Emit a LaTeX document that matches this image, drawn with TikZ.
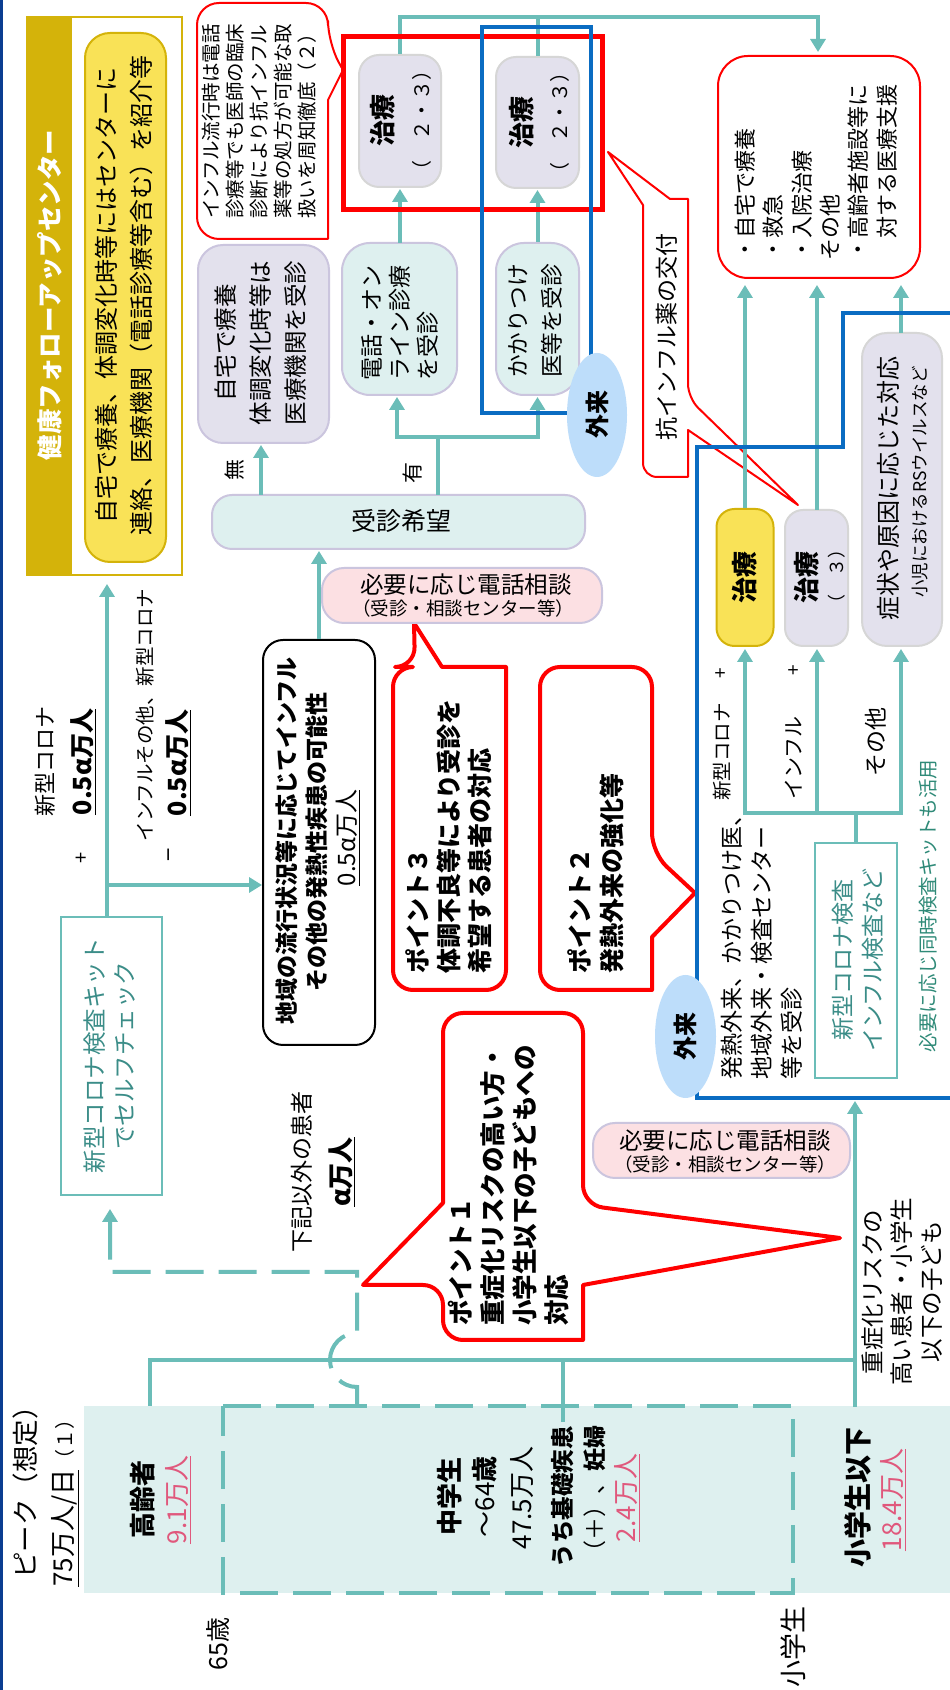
\documentclass[tikz,border=0pt]{standalone}
\usepackage{fontspec}
\setmainfont{Noto Sans CJK JP}
\usetikzlibrary{arrows.meta,shapes.geometric}
\definecolor{cTeal}{HTML}{6BBDB8}
\definecolor{cTealF}{HTML}{DEF0EF}
\definecolor{cLavB}{HTML}{CBC5DE}
\definecolor{cLavF}{HTML}{E3E1ED}
\definecolor{cGrayB}{HTML}{D6D6D6}
\definecolor{cYel}{HTML}{F9E257}
\definecolor{cGold}{HTML}{D4B30A}
\definecolor{cPinkF}{HTML}{FCE0E3}
\definecolor{cPinkT}{HTML}{E0587C}
\definecolor{cRed}{HTML}{FF0000}
\definecolor{cBlue}{HTML}{0A6CC2}
\definecolor{cNavy}{HTML}{0B3D91}
\definecolor{cEll}{HTML}{BDDDFA}
\definecolor{cKit}{HTML}{3B8D88}
\definecolor{cKitG}{HTML}{2F8A78}
\tikzset{
  ktl/.style={draw=cTeal, line width=4pt},
  karr/.style={ktl, -{Triangle[width=15pt,length=13pt]}},
  karrb/.style={ktl, {Triangle[width=15pt,length=13pt]}-{Triangle[width=15pt,length=13pt]}},
  kdsh/.style={ktl, dash pattern=on 38pt off 15pt},
  kdarr/.style={kdsh, -{Triangle[width=15pt,length=13pt]}},
  kco/.style={draw=cRed, line width=2pt, fill=white, line join=round},
  kcob/.style={draw=cRed, line width=4pt, fill=white, line join=round},
  kbx/.style={rectangle, inner sep=0pt, line width=2pt},
  ktx/.style={inner sep=0pt, font=\fontsize{#1}{#1}\selectfont},
  ktb/.style={inner sep=0pt, font=\bfseries\fontsize{#1}{#1}\selectfont},
  kml/.style 2 args={inner sep=0pt, align=left, anchor=west, font=\fontsize{#1}{#2}\selectfont},
  kmlb/.style 2 args={inner sep=0pt, align=left, anchor=west, font=\bfseries\fontsize{#1}{#2}\selectfont},
  kmc/.style 2 args={inner sep=0pt, align=center, font=\fontsize{#1}{#2}\selectfont},
  kupr/.style={rotate=-90},
}
\begin{document}
\begin{tikzpicture}[x=1pt,y=1pt]
\useasboundingbox (0,0) rectangle (950,1690);
\fill[white] (0,0) rectangle (950,1690);
\begin{scope}[rotate=90, shift={(1690pt,0pt)}, x={(0pt,-1pt)}, y={(-1pt,0pt)}, transform shape]
% ---------- base fills
\fill[cNavy] (0,0) rectangle (3,1690);
\fill[cTealF] (84,1406) rectangle (950,1593);
% ---------- callouts
\draw[kco] (197,120) [rounded corners=22pt] -- (197,3) -- (328,3) -- (328,43) [sharp corners] -- (343,70) -- (328,100) -- (328,239) [rounded corners=22pt] -- (197,239) -- cycle;
\draw[kco] (643,340) -- (643,205) -- (608,152) -- (670,199) -- (688,199) [rounded corners=14pt] -- (688,398) [sharp corners] -- (798,505) -- (688,430) -- (688,477) [rounded corners=14pt] -- (643,477) -- cycle;
\draw[kcob] (393,830) [rounded corners=20pt] -- (393,667) -- (415,667) [sharp corners] -- (414,623) -- (442,667) -- (506,667) [rounded corners=20pt] -- (506,990) -- (393,990) -- cycle;
\draw[kcob] (540,830) [rounded corners=20pt] -- (540,667) -- (652,667) -- (652,853) [sharp corners] -- (695,893) -- (652,937) -- (652,990) [rounded corners=20pt] -- (540,990) -- cycle;
\draw[kcob] (443,1100) [rounded corners=20pt] -- (443,1013) -- (583,1013) -- (583,1205) [sharp corners] -- (840,1238) -- (583,1285) -- (583,1340) [rounded corners=20pt] -- (443,1340) -- (443,1285) [sharp corners] -- (363,1285) -- (443,1203) -- cycle;
% ---------- boxes
\node[draw=cGold, line width=2pt, fill=white, inner sep=0pt, minimum width=558pt, minimum height=155pt] (hdr) at (104.5,296) {};
\fill[cGold] (27,17) rectangle (72,575);
\node[kbx, fill=cYel, draw=cGold, rounded corners=25pt, minimum width=529pt, minimum height=81pt] (yb) at (125.5,297.5) {};
\node[kbx, fill=cLavF, draw=cGrayB, rounded corners=20pt, minimum width=132pt, minimum height=82pt] (t1) at (400,121) {};
\node[kbx, fill=cLavF, draw=cGrayB, rounded corners=20pt, minimum width=131pt, minimum height=83pt] (t2) at (537.5,122.5) {};
\node[kbx, fill=white, draw=cRed, rounded corners=30pt, minimum width=222pt, minimum height=202pt] (rb) at (819,167) {};
\node[kbx, fill=cLavF, draw=cLavB, rounded corners=25pt, minimum width=198pt, minimum height=131pt] (jt) at (263.5,344) {};
\node[kbx, fill=cTealF, draw=cLavB, rounded corners=28pt, minimum width=152pt, minimum height=115pt] (den) at (399.5,319) {};
\node[kbx, fill=cTealF, draw=cLavB, rounded corners=28pt, minimum width=152pt, minimum height=83pt] (kk) at (537.5,319) {};
\node[kbx, fill=cTealF, draw=cLavB, rounded corners=20pt, minimum width=54pt, minimum height=373pt] (jk) at (398.5,522) {};
\node[kbx, fill=cPinkF, draw=cLavB, rounded corners=22pt, minimum width=55pt, minimum height=280pt] (pk1) at (462,595.5) {};
\node[kbx, fill=white, draw=black, rounded corners=20pt, minimum width=405pt, minimum height=112pt] (ch) at (319,842.5) {};
\node[kbx, fill=white, draw=cTeal, line width=2.5pt, minimum width=278pt, minimum height=101pt] (k1) at (111.5,1056) {};
\node[kbx, fill=cYel, draw=cGold, rounded corners=18pt, minimum width=137pt, minimum height=57pt] (ty) at (745,577.5) {};
\node[kbx, fill=cLavF, draw=cGrayB, rounded corners=18pt, minimum width=136pt, minimum height=63pt] (t3) at (816.5,578) {};
\node[kbx, fill=cLavF, draw=cGrayB, rounded corners=25pt, minimum width=313pt, minimum height=80pt] (ss) at (902,489.5) {};
\node[kbx, fill=white, draw=cTeal, line width=2.5pt, minimum width=235pt, minimum height=82pt] (k2) at (856,960.5) {};
\node[kbx, fill=cPinkF, draw=cLavB, rounded corners=22pt, minimum width=55pt, minimum height=257pt] (pk2) at (721.5,1150.5) {};
% ---------- connectors
\draw[karr] (t1.east) -- (400,17) -- (818,17) -- (818,52);
\draw[ktl] (t2.east) -- (537.5,17);
\draw[karr] (261,495) -- (261,445);
\draw[ktl] (438,495) -- (438,437);
\draw[karrb] (397,397) -- (397,437) -- (537.5,437) -- (537.5,397);
\draw[karr] (400,243) -- (400,189);
\draw[karr] (kk.east) -- (537.5,190);
\draw[karr] (ch.east) -- (319,551);
\draw[karr] (107,917) -- (107,584);
\draw[karr] (107,885) -- (262,885);
\draw[kdarr] (357,1406) -- (357,1387) .. controls (342.1,1387) and (330,1374.9) .. (330,1360) .. controls (330,1345.1) and (342.1,1333) .. (357,1333) -- (357,1272) -- (110,1272) -- (110,1209);
\draw[ktl] (150,1406) -- (150,1360) -- (855,1360);
\draw[ktl] (563,1360) -- (563,1422);
\draw[karr] (855,1407) -- (855,1101);
\draw[ktl] (k2.east) -- (856,813);
\draw[karrb] (745,649) -- (745,813) -- (901,813) -- (901,649);
\draw[karr] (817,813) -- (817,649);
\draw[karr] (ty.east) -- (745,285);
\draw[karr] (817,510) -- (817,285);
\draw[karr] (901,333) -- (901,285);
\draw[kdsh] (223,1406) rectangle (793,1593);
% ---------- frames
\node[draw=cRed, line width=5pt, inner sep=0pt, minimum width=173pt, minimum height=259pt] (redf) at (472.5,123.5) {};
\node[draw=cBlue, line width=3.5pt, inner sep=0pt, minimum width=386pt, minimum height=109pt] (bluef) at (536.5,220) {};
\draw[cBlue, line width=3.5pt] (950,313) -- (843,313) -- (843,447) -- (697,447) -- (697,1098) -- (950,1098);
\node[ellipse, fill=cEll, ktb=24, minimum width=124pt, minimum height=60pt] (g1) at (597,415) {外来};
\node[ellipse, fill=cEll, ktb=24, minimum width=123pt, minimum height=61pt] (g2) at (685.5,1036.5) {外来};
% ---------- texts
\node[ktb=25.5, text=white] (hdrt) at (49.5,295) {健康フォローアップセンター};
\node[kmc={24}{35}] (ybt) at (124.5,296) {自宅で療養、体調変化時等にはセンターに\\連絡、医療機関（電話診療等含む）を紹介等};
\node[kml={19.5}{24}] (c0t) at (259.5,219) {インフル流行時は電話\\診療等でも医師の臨床\\診断により抗インフル\\薬等の処方が可能な取\\扱いを周知徹底（２）};
\node[ktb=26] (t1a) at (383,121) {治療};
\node[ktx=20] (t1b) at (422,121) {（　２・３）};
\node[ktb=26] (t2a) at (522,122.5) {治療};
\node[ktx=20] (t2b) at (560,122.5) {（　２・３）};
\node[kml={22}{28.4}] (rbt) at (816,261) {・自宅で療養\\・救急\\・入院治療\\その他\\・高齢者施設等に\\\hspace*{1em}対する医療支援};
\node[kmc={23.5}{35}] (jtt) at (261,343) {自宅で療養\\体調変化時等は\\医療機関を受診};
\node[kml={23}{28}] (dent) at (400,381) {電話・オン\\ライン診療\\を受診};
\node[kml={22.7}{34}] (kkt) at (535,378) {かかりつけ\\医等を受診};
\node[kupr, ktx=25] (jkt) at (401,521) {受診希望};
\node[ktx=21] (mu) at (235,470) {無};
\node[ktx=21] (yu) at (413,473) {有};
\node[kupr, ktx=23.5] (pk1a) at (466,585) {必要に応じ電話相談};
\node[kupr, ktx=18.5] (pk1b) at (463,608) {（受診・相談センター等）};
\node[ktb=23] (ch1) at (287,841) {地域の流行状況等に応じてインフル};
\node[ktb=23] (ch2) at (317,842) {その他の発熱性疾患の可能性};
\node[ktx=24] (ch3) at (348,838) {\underline{0.5α万人}};
\node[kmlb={25}{31}] (p3t) at (449,974) {ポイント３\\体調不良等により受診を\\希望する患者の対応};
\node[kmlb={25}{32}] (p2t) at (596,974) {ポイント２\\発熱外来の強化等};
\node[kmlb={25.5}{32}] (p1t) at (509,1326) {ポイント１\\重症化リスクの高い方・\\小学生以下の子どもへの\\対応};
\node[kupr, ktx=23.5] (pk2a) at (725,1141) {必要に応じ電話相談};
\node[kupr, ktx=18.5] (pk2b) at (725,1164) {（受診・相談センター等）};
\node[kml={23}{30}] (hnt) at (762,1080) {発熱外来、かかりつけ医、\\地域外来・検査センター\\等を受診};
\node[kmc={23}{30}, text=cKit] (k2t) at (858,960) {新型コロナ検査\\インフル検査など};
\node[ktx=19.5, text=cKitG] (hn2) at (928,906) {必要に応じ同時検査キットも活用};
\node[kml={19.5}{19.5}] (lb1) at (722,801) {新型コロナ};
\node[ktx=19] (lb1p) at (722,673) {+};
\node[kml={21}{21}] (lb2) at (794,800) {インフル};
\node[ktx=19] (lb2p) at (795,670) {+};
\node[ktx=23] (lb3) at (876,742) {その他};
\node[ktb=26] (tya) at (745,577.5) {治療};
\node[ktb=26] (t3a) at (807,578) {治療};
\node[ktx=18] (t3b) at (837,577) {（　３）};
\node[ktx=24] (ssa) at (888,489) {症状や原因に応じた対応};
\node[ktx=17.5] (ssb) at (920,482) {小児におけるRSウイルスなど};
\node[ktx=23] (kp) at (667,337) {抗インフル薬の交付};
\node[kmc={23.5}{30}, text=cKit] (k1t) at (110,1056) {新型コロナ検査キット\\でセルフチェック};
\node[kmc={23.5}{29.5}] (jr) at (902,1292) {重症化リスクの\\高い患者・小学生\\以下の子ども};
\node[ktx=23] (kaki) at (302,1172) {下記以外の患者};
\node[ktb=26] (alp) at (342,1172) {\underline{α万人}};
\node[ktx=22] (ln1) at (45,762) {新型コロナ};
\node[ktb=25] (ln2) at (83,762) {\underline{0.5α万人}};
\node[ktx=20] (lnp) at (82,858) {+};
\node[ktx=19.5] (ln3) at (145,715) {インフルその他、新型コロナ};
\node[ktb=25] (ln4) at (178,763) {\underline{0.5α万人}};
\node[ktx=24] (lnm) at (173,855) {−};
\node[ktb=26] (ko) at (143,1500) {高齢者};
\node[ktx=26, text=cPinkT] (kon) at (178,1500) {\underline{9.1万人}};
\node[ktb=26] (cu1) at (450,1497) {中学生};
\node[ktx=26] (cu2) at (485,1497) {〜64{\bfseries 歳}};
\node[ktx=26] (cu3) at (522,1498) {47.5万人};
\node[ktb=23.5] (cu4) at (563,1497) {うち基礎疾患};
\node[ktx=23] (cu5) at (595,1495) {（＋）、{\bfseries 妊婦}};
\node[ktx=26, text=cPinkT] (cu6) at (627,1498) {\underline{2.4万人}};
\node[ktb=28] (sy) at (858,1498) {小学生以下};
\node[ktx=26, text=cPinkT] (syn) at (893,1500) {\underline{18.4万人}};
\node[ktx=26.5] (pkt) at (25,1486) {ピーク（想定）};
\node[anchor=west, ktx=26] (pkn) at (65,1587) {\underline{75万人/日}{\fontsize{20}{20}\selectfont （１）}};
\node[ktx=25] (a65) at (218,1644) {65歳};
\node[anchor=west, ktx=27] (ssg) at (793,1688) {小学生};
\end{scope}
\end{tikzpicture}
\end{document}
